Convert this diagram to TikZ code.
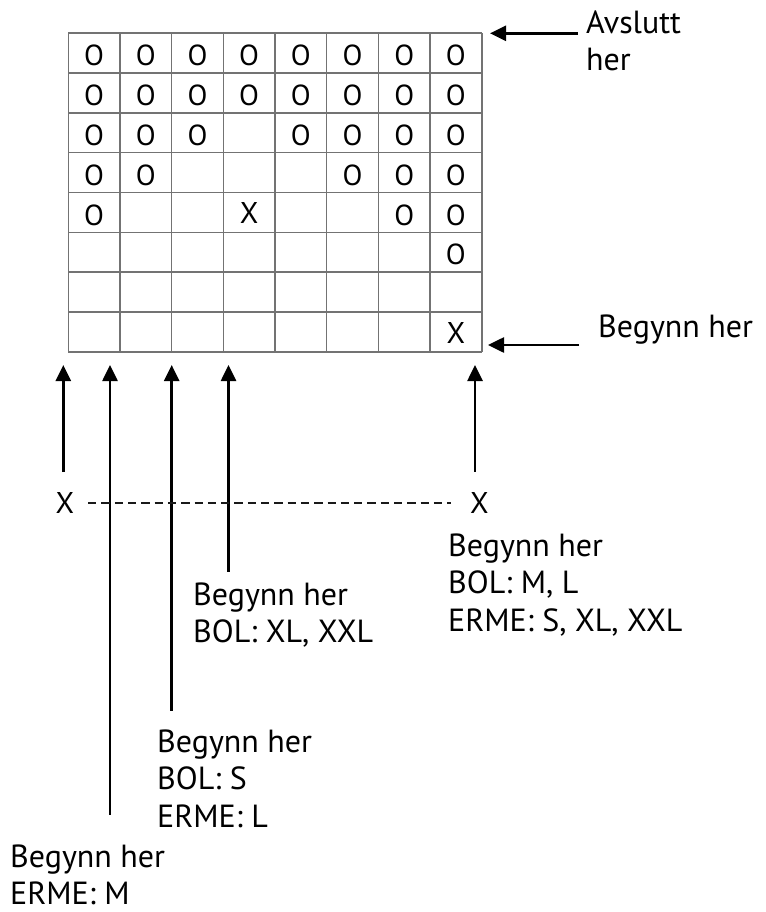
\documentclass[tikz,border=0pt]{standalone}
\usepackage{fontspec}
\setmainfont{PT Sans}
\usetikzlibrary{
    arrows.meta,
    positioning
}

\begin{document}
\begin{tikzpicture}[x=1pt, y=-1pt,
    txt/.style={anchor=base west, inner sep=0pt, font=\fontsize{32}{37.7}\selectfont},
    osym/.style={anchor=base, inner sep=0pt, font=\fontsize{29}{34}\selectfont},
    xsym/.style={anchor=base, inner sep=0pt, font=\fontsize{30}{35}\selectfont},
    cell/.style={line width=1.6pt, black!55},
    arr/.style={line width=2.6pt, -{Triangle[length=16pt, width=15pt]}},
    guide/.style={line width=2.3pt, black!90, dash pattern=on 8.3pt off 5pt}
]
                        \useasboundingbox (0, 0) rectangle (765, 912);

                        % grid
                        \foreach \i in {0,...,8} {
                            \draw[cell] ({68.3+\i*51.675}, 33.3) -- ({68.3+\i*51.675}, 351.7);
                            \draw[cell] (68.3, {33.3+\i*39.8}) -- (481.7, {33.3+\i*39.8});
                        }
                        \coordinate (gNE) at (481.7, 33.3);
                        \coordinate (gSE) at (481.7, 351.7);

                        \foreach \r/\cols in {1/{1,...,8}, 2/{1,...,8}, 3/{1,2,3,5,6,7,8}, 4/{1,2,6,7,8}, 5/{1,7,8}, 6/{8}}
                            \foreach \c in \cols
                                \node[osym] (o\r\c) at ({68.3+(\c-0.5)*51.675}, {33.3+(\r-1)*39.8+32.5}) {O};
                        \node[xsym] (x45) at ({68.3+3.5*51.675}, {33.3+4*39.8+31}) {X};
                        \node[xsym] (x88) at ({68.3+7.5*51.675}, {33.3+7*39.8+31.5}) {X};

                        % labels
                        \node[txt] (avslutt) at (586, 33.3) {
                            \begin{tabular}[t]{@{}l@{}}
                                Avslutt \\
                                her
                            \end{tabular}
                        };
                        \node[txt] (begynn) at (598, 337) {Begynn her};
                        \node[txt] (startML) at (448, 556) {
                            \begin{tabular}[t]{@{}l@{}}
                                Begynn her \\
                                BOL: M, L \\
                                ERME: S, XL, XXL
                            \end{tabular}
                        };
                        \node[txt] (startXL) at (193, 605) {
                            \begin{tabular}[t]{@{}l@{}}
                                Begynn her \\
                                BOL: XL, XXL
                            \end{tabular}
                        };
                        \node[txt] (startS) at (157, 752) {
                            \begin{tabular}[t]{@{}l@{}}
                                Begynn her \\
                                BOL: S \\
                                ERME: L
                            \end{tabular}
                        };
                        \node[txt] (startM) at (10, 867) {
                            \begin{tabular}[t]{@{}l@{}}
                                Begynn her \\
                                ERME: M
                            \end{tabular}
                        };

                        \node[xsym] (xleft) at (65, 513.3) {X};
                        \node[xsym] (xright) at (479.5, 513.3) {X};

                        \coordinate (tipX) at (63.3, 365);
                        \coordinate (tipM) at (110, 365);
                        \coordinate (tipS) at (171.7, 365);
                        \coordinate (tipXL) at (228.5, 365);
                        \coordinate (tipML) at (475, 365);

                        \draw
                        ([xshift=-8pt]avslutt.base west) edge[arr] ([xshift=8.3pt]gNE)
                        ([xshift=-19pt, yshift=-8pt]begynn.base west) edge[arr] ([xshift=6.3pt, yshift=6.7pt]gSE)
                        (xleft.north -| tipX) edge[arr, shorten <=20pt] (tipX)
                        (startM.north -| tipM) edge[arr, shorten <=25.6pt] (tipM)
                        (startS.north -| tipS) edge[arr, shorten <=14.6pt] (tipS)
                        (startXL.north -| tipXL) edge[arr, shorten <=6.6pt] (tipXL)
                        (xright.north -| tipML) edge[arr, shorten <=20.5pt] (tipML);

                        \draw[guide, shorten <=13.7pt, shorten >=19.5pt] (xleft) -- (xright);
\end{tikzpicture}
\end{document}
